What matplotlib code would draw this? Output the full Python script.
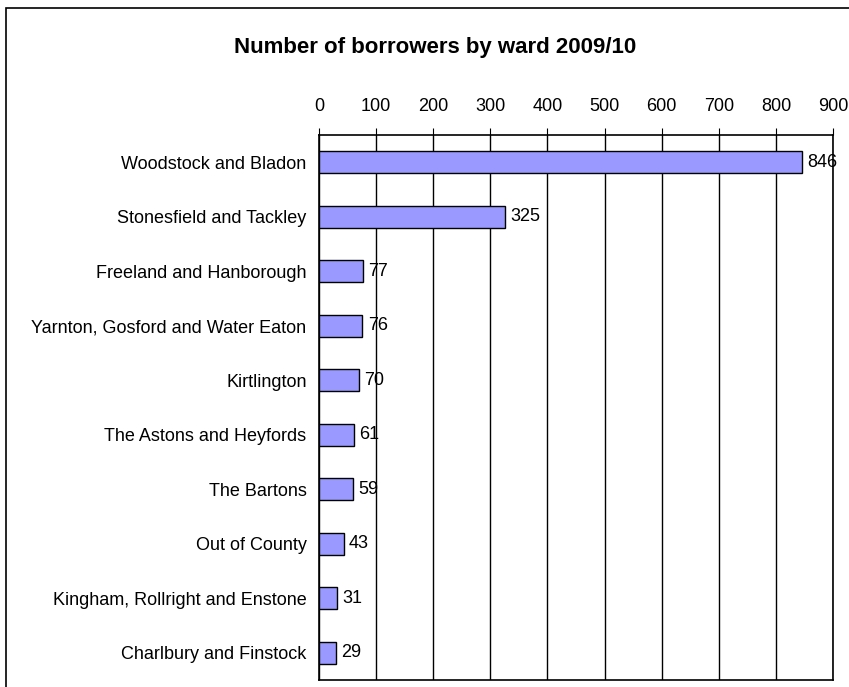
import matplotlib
matplotlib.use("Agg")
import matplotlib.pyplot as plt
from matplotlib.patches import Rectangle

wards = ["Woodstock and Bladon", "Stonesfield and Tackley", "Freeland and Hanborough",
         "Yarnton, Gosford and Water Eaton", "Kirtlington", "The Astons and Heyfords",
         "The Bartons", "Out of County", "Kingham, Rollright and Enstone",
         "Charlbury and Finstock"]
borrowers = [846, 325, 77, 76, 70, 61, 59, 43, 31, 29]
x_ticks = [0, 100, 200, 300, 400, 500, 600, 700, 800, 900]

plt.rcParams['font.family'] = ['Liberation Sans', 'DejaVu Sans']

fig = plt.figure(figsize=(8.49, 6.87), dpi=100)
ax = fig.add_axes([319 / 849, 1 - 680 / 687, (833 - 319) / 849, (680 - 135) / 687])

# outer chart frame, cut off at right and bottom like the screenshot
fig.patches.append(Rectangle((6 / 849, -0.1), 1.2, 1 - 8 / 687 + 0.1, transform=fig.transFigure,
                             fill=False, edgecolor='black', linewidth=1.2))

pos = list(range(len(wards)))
ax.barh(pos, borrowers, height=0.4, color='#9999FF', edgecolor='black', linewidth=1, zorder=3)
for p, v in zip(pos, borrowers):
    ax.annotate(str(v), (v, p), xytext=(4, 0), textcoords='offset points',
                va='center', ha='left', fontsize=13, zorder=4)

ax.set_xlim(0, 900)
ax.set_ylim(len(wards) - 0.5, -0.5)
ax.set_xticks(x_ticks)
ax.set_yticks(pos)
ax.set_yticklabels(wards)
ax.xaxis.tick_top()
ax.tick_params(axis='x', length=5, pad=9.5, labelsize=13, direction='out')
ax.tick_params(axis='y', length=0, pad=9, labelsize=13)
ax.grid(axis='x', color='black', linewidth=1, zorder=1)
for s in ax.spines.values():
    s.set_linewidth(1.2)

fig.text(435 / 849, 1 - 53 / 687, 'Number of borrowers by ward 2009/10', ha='center', va='baseline',
         fontsize=16, fontweight='bold')

fig.savefig('out.png', dpi=100)
